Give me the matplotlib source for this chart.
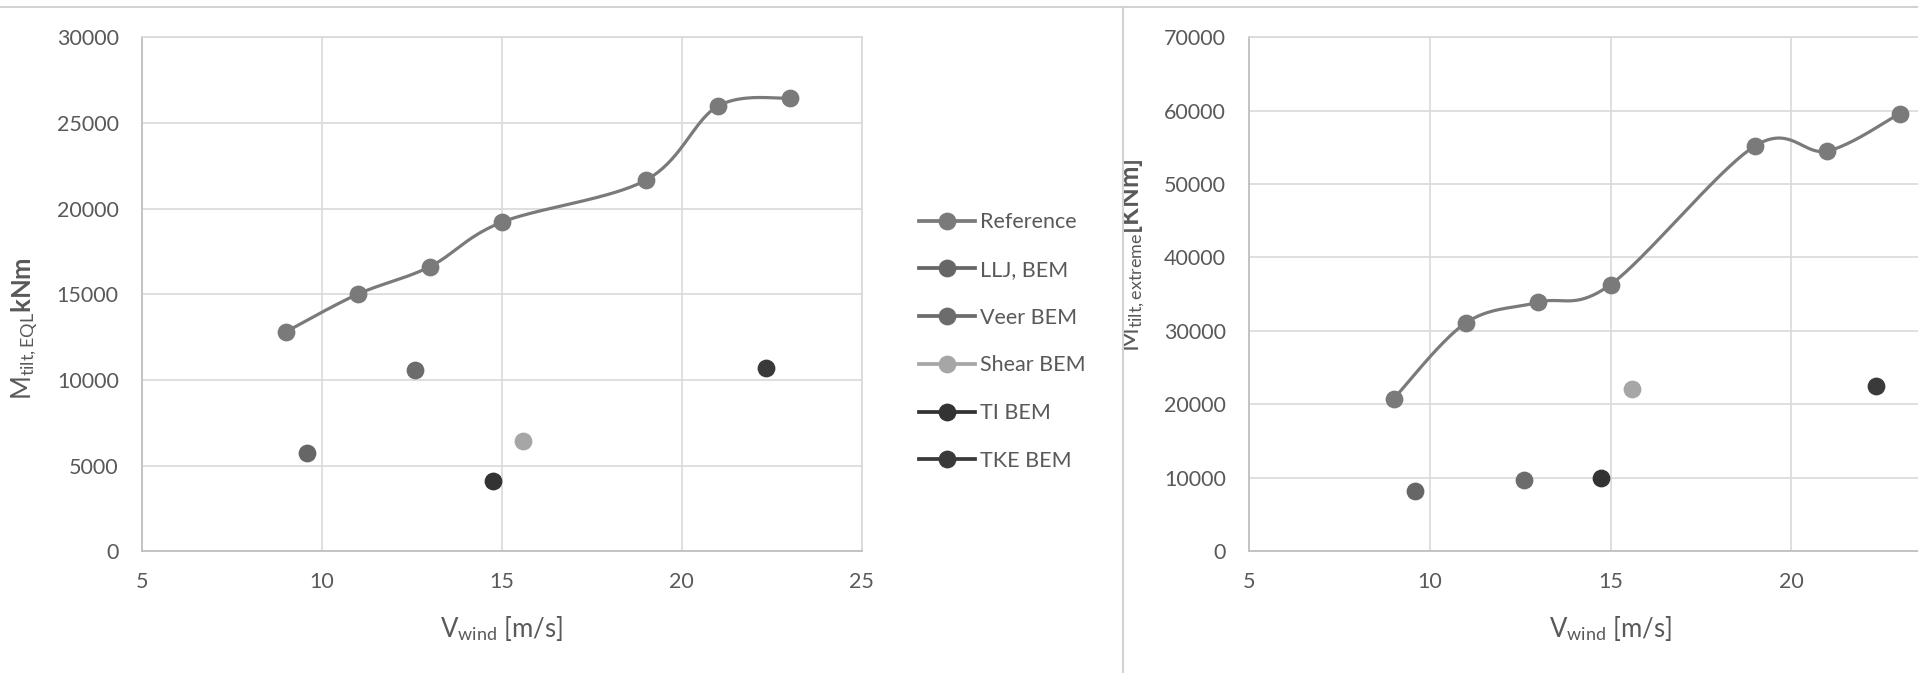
import numpy as np
import matplotlib
matplotlib.use("Agg")
import matplotlib.pyplot as plt
from matplotlib.lines import Line2D
from matplotlib.transforms import Bbox

plt.rcParams['font.family'] = ['Lato', 'DejaVu Sans']
plt.rcParams['mathtext.fontset'] = 'custom'
plt.rcParams['mathtext.rm'] = 'Lato'
plt.rcParams['mathtext.it'] = 'Lato:italic'
plt.rcParams['mathtext.bf'] = 'Lato:bold'

# ---- data -------------------------------------------------------------
series_names = ["Reference", "LLJ, BEM", "Veer BEM", "Shear BEM", "TI BEM", "TKE BEM"]
series_colors = ["#7a7a7a", "#666666", "#6c6c6c", "#a6a6a6", "#333333", "#3a3a3a"]

ref_wind = [9, 11, 13, 15, 19, 21, 23]
ref_eql = [12800, 15000, 16600, 19200, 21650, 25970, 26450]
ref_extreme = [20750, 31100, 33900, 36300, 55200, 54500, 59600]

case_wind = [9.6, 12.6, 15.6, 14.75, 22.35]          # LLJ, Veer, Shear, TI, TKE
case_eql = [5730, 10590, 6440, 4100, 10690]
case_extreme = [8200, 9670, 22100, 10000, 22500]

eql_ticks = [0, 5000, 10000, 15000, 20000, 25000, 30000]
extreme_ticks = [0, 10000, 20000, 30000, 40000, 50000, 60000, 70000]
wind_ticks = [5, 10, 15, 20, 25]

TEXT = "#595959"
GRID = "#d9d9d9"
AXIS = "#bfbfbf"
W, H = 1918, 673


def smooth_curve(x, y, n=40):
    """Cubic Bezier spline through the points (Catmull-Rom style handles)."""
    P = np.column_stack([x, y]).astype(float)
    out = []
    t = np.linspace(0, 1, n)[:, None]
    for i in range(len(P) - 1):
        p0 = P[max(i - 1, 0)]
        p1 = P[i]
        p2 = P[i + 1]
        p3 = P[min(i + 2, len(P) - 1)]
        c1 = p1 + (p2 - p0) / 6.0
        c2 = p2 - (p3 - p1) / 6.0
        seg = ((1 - t) ** 3) * p1 + 3 * ((1 - t) ** 2) * t * c1 + 3 * (1 - t) * t ** 2 * c2 + t ** 3 * p2
        out.append(seg if i == 0 else seg[1:])
    pts = np.vstack(out)
    return pts[:, 0], pts[:, 1]


def px_rect(x0, y0, x1, y1):
    return [x0 / W, 1 - y1 / H, (x1 - x0) / W, (y1 - y0) / H]


fig = plt.figure(figsize=(W / 100, H / 100), dpi=100)

ax1 = fig.add_axes(px_rect(141.7, 37.2, 861.7, 551.2))
# the right panel runs past the page edge, so its last tick is off-canvas
ax2 = fig.add_axes(px_rect(1249.0, 37.2, 1972.0, 551.2))

MS = 11.8
LW = 2.3


def draw_panel(ax, ref_vals, case_vals, yticks, xticks):
    sx, sy = smooth_curve(ref_wind, ref_vals)
    ax.plot(sx, sy, color=series_colors[0], lw=LW, solid_capstyle='round', zorder=3)
    ax.plot(ref_wind, ref_vals, linestyle='none', marker='o', ms=MS,
            color=series_colors[0], zorder=4)
    for k in range(len(case_wind)):
        ax.plot([case_wind[k]], [case_vals[k]], linestyle='none', marker='o', ms=MS,
                color=series_colors[k + 1], zorder=4)
    ax.set_xlim(wind_ticks[0], wind_ticks[-1])
    ax.set_ylim(yticks[0], yticks[-1])
    ax.set_xticks(xticks)
    ax.set_yticks(yticks)
    ax.grid(True, color=GRID, lw=1.2)
    ax.set_axisbelow(True)
    for side in ("top", "right"):
        ax.spines[side].set_color(GRID)
        ax.spines[side].set_linewidth(1.2)
    for side in ("left", "bottom"):
        ax.spines[side].set_color(AXIS)
        ax.spines[side].set_linewidth(1.3)
    ax.tick_params(axis='both', length=0, labelsize=15.5, labelcolor=TEXT)
    ax.tick_params(axis='y', pad=16.5)
    ax.tick_params(axis='x', pad=15)


draw_panel(ax1, ref_eql, case_eql, eql_ticks, wind_ticks)
draw_panel(ax2, ref_extreme, case_extreme, extreme_ticks, wind_ticks[:-1])

# axis titles
xlab = r"V$_{\mathregular{wind}}$ [m/s]"
fig.text(501.7 / W, 1 - 636.7 / H, xlab, ha='center', va='baseline', fontsize=18.5, color=TEXT)
fig.text(1610.5 / W, 1 - 636.7 / H, xlab, ha='center', va='baseline', fontsize=18.5, color=TEXT)

fig.text(32 / W, 1 - 400 / H, r"$\mathregular{M}_{\mathregular{tilt,EQL}}\mathbf{kNm}$",
         rotation=90, rotation_mode='anchor', ha='left', va='baseline',
         fontsize=18.5, color=TEXT)
yl2 = fig.text(1139 / W, 1 - 352 / H, r"$\mathregular{M}_{\mathregular{tilt,extreme}}\mathbf{[KNm]}$",
               rotation=90, rotation_mode='anchor', ha='left', va='baseline',
               fontsize=18.5, color=TEXT)
yl2.set_clip_box(Bbox([[1124.0, 0.0], [W, H]]))
yl2.set_clip_on(True)

# legend
handles = [Line2D([], [], color=c, lw=LW + 0.4, marker='o', ms=MS) for c in series_colors]
fig.legend(handles, series_names, loc='center left',
           bbox_to_anchor=(919 / W, 1 - 341.5 / H), frameon=False,
           fontsize=15.5, labelcolor=TEXT, handlelength=2.6, handletextpad=0.25,
           labelspacing=1.29, borderpad=0, borderaxespad=0)

# page rules separating the two panels
fig.add_artist(Line2D([0, 1], [1 - 7.3 / H] * 2, transform=fig.transFigure,
                      color="#d2d2d2", lw=1.5))
fig.add_artist(Line2D([1122.7 / W] * 2, [0, 1 - 7.3 / H], transform=fig.transFigure,
                      color="#d2d2d2", lw=1.5))

fig.savefig("out.png", dpi=100)
